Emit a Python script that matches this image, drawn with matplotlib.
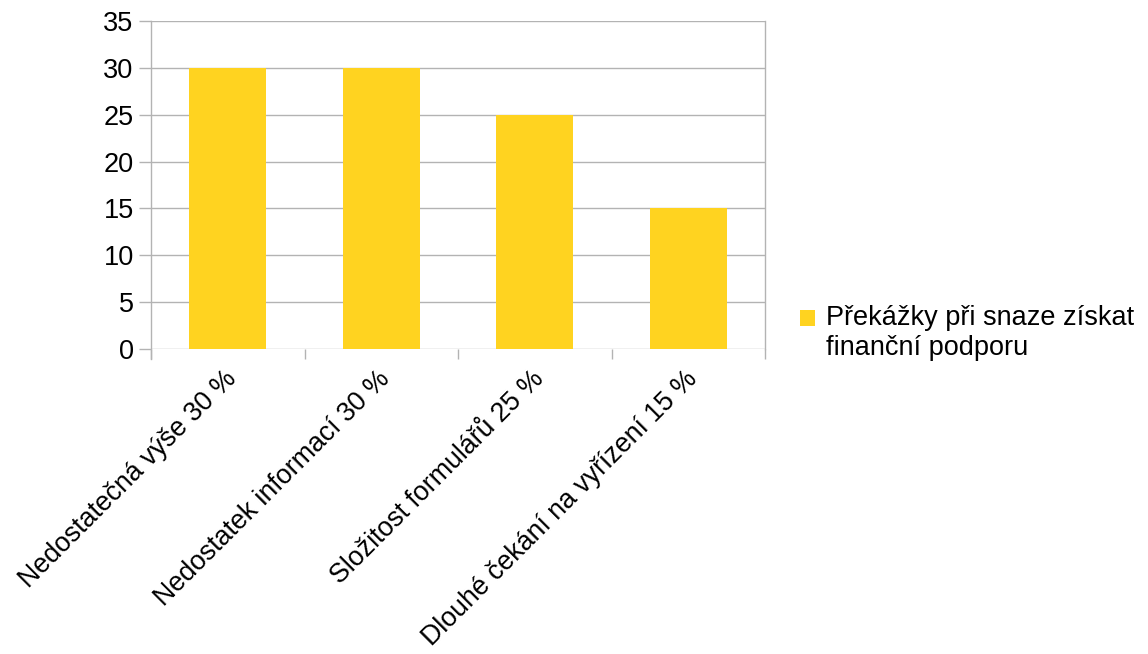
import matplotlib
matplotlib.use("Agg")
import matplotlib.pyplot as plt
import matplotlib.transforms as mtransforms
from matplotlib.ticker import FixedLocator, NullFormatter
from matplotlib.patches import Patch, Rectangle
from matplotlib.legend_handler import HandlerPatch

categories = ["Nedostatečná výše 30 %", "Nedostatek informací 30 %",
              "Složitost formulářů 25 %", "Dlouhé čekání na vyřízení 15 %"]
values = [30, 30, 25, 15]
series_name = "Překážky při snaze získat\nfinanční podporu"
yticks = [0, 5, 10, 15, 20, 25, 30, 35]

plt.rcParams['font.family'] = ['Liberation Sans', 'DejaVu Sans']

W, H = 1148, 654
fig = plt.figure(figsize=(W / 100, H / 100), dpi=100)
left, right, top, bottom = 151, 765, 21, 349
ax = fig.add_axes([left / W, (H - bottom) / H, (right - left) / W, (bottom - top) / H])

bar_color = "#FFD320"
grid_color = "#B3B3B3"
x = list(range(len(categories)))
ax.bar(x, values, width=0.5, color=bar_color, zorder=3)

ax.set_xlim(-0.5, len(categories) - 0.5)
ax.set_ylim(0, 35)
ax.set_yticks(yticks)
ax.set_yticklabels([str(v) for v in yticks], fontsize=19.5)
ax.yaxis.grid(True, color=grid_color, linewidth=1)
ax.set_axisbelow(True)

for s in ["top", "bottom"]:
    ax.spines[s].set_visible(False)
for s in ["left", "right"]:
    ax.spines[s].set_color(grid_color)
    ax.spines[s].set_linewidth(1)
ax.spines["left"].set_bounds(-1.1, 35)

ax.tick_params(axis="y", length=8.5, color=grid_color, width=1, pad=4, labelcolor="black")
ax.set_xticks(x)
ax.set_xticklabels(categories, rotation=45, ha="right", va="top",
                   rotation_mode="anchor", fontsize=19.3)
ax.tick_params(axis="x", which="major", length=0, pad=12)
shift = mtransforms.ScaledTranslation(-4 / 100, 0, fig.dpi_scale_trans)
for lbl in ax.get_xticklabels():
    lbl.set_transform(lbl.get_transform() + shift)
ax.xaxis.set_minor_locator(FixedLocator([-0.5, 0.5, 1.5, 2.5, 3.5]))
ax.xaxis.set_minor_formatter(NullFormatter())
ax.tick_params(axis="x", which="minor", length=7.5, color=grid_color, width=1)


def top_square(legend, orig_handle, xdescent, ydescent, width, height, fontsize):
    return Rectangle((-xdescent, -ydescent + 11), width, height)


handle = Patch(facecolor=bar_color, edgecolor="none")
fig.legend([handle], [series_name], loc="upper left",
           bbox_to_anchor=(800 / W, 1 - 305 / H), frameon=False, fontsize=19.5,
           handlelength=0.57, handleheight=0.57, handletextpad=0.38,
           borderaxespad=0, borderpad=0, labelspacing=0,
           handler_map={Patch: HandlerPatch(patch_func=top_square)})

fig.savefig("out.png", dpi=100)
